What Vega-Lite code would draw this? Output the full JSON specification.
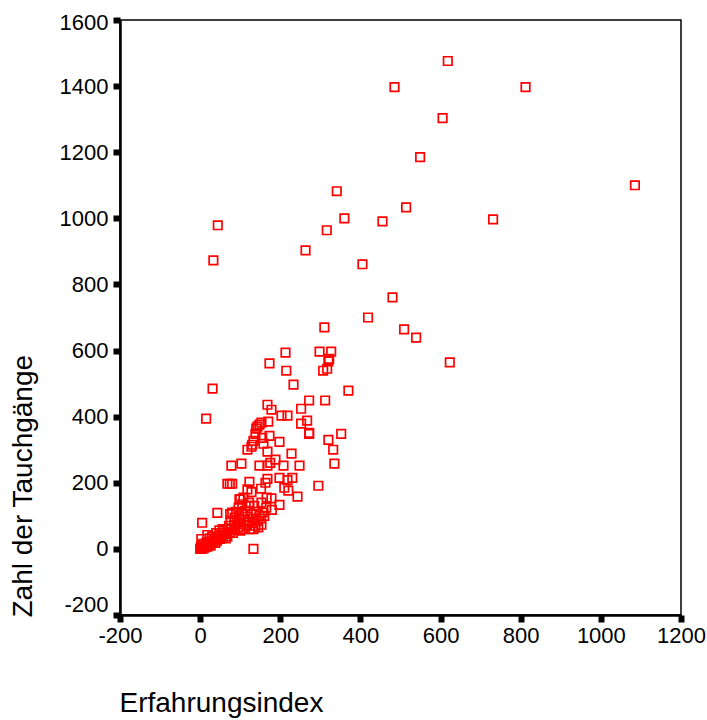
{"$schema":"https://vega.github.io/schema/vega-lite/v6.json","width":561,"height":595,"autosize":"none","padding":{"left":120,"top":20,"right":26,"bottom":105},"background":"white","view":{"stroke":"black","strokeWidth":1.5,"fill":"white"},"data":{"values":[
{"x":618,"y":1476},{"x":485,"y":1397},{"x":812,"y":1397},{"x":605,"y":1303},{"x":549,"y":1185},{"x":1085,"y":1100},{"x":341,"y":1082},{"x":44,"y":979},{"x":360,"y":1000},{"x":455,"y":991},{"x":514,"y":1033},{"x":731,"y":997},{"x":316,"y":964},{"x":263,"y":903},{"x":33,"y":873},{"x":405,"y":861},{"x":480,"y":761},{"x":419,"y":700},{"x":310,"y":670},{"x":509,"y":664},{"x":539,"y":639},{"x":623,"y":564},{"x":173,"y":561},{"x":213,"y":594},{"x":298,"y":597},{"x":327,"y":597},{"x":320,"y":567},{"x":322,"y":575},{"x":317,"y":545},{"x":307,"y":539},{"x":215,"y":539},{"x":233,"y":497},{"x":370,"y":479},{"x":31,"y":485},{"x":15,"y":394},
{"x":168,"y":436},{"x":178,"y":421},{"x":272,"y":449},{"x":312,"y":449},{"x":252,"y":424},{"x":203,"y":403},{"x":218,"y":403},{"x":267,"y":388},{"x":252,"y":379},{"x":272,"y":351},{"x":272,"y":348},{"x":352,"y":348},{"x":320,"y":330},{"x":332,"y":300},{"x":335,"y":258},{"x":295,"y":191},{"x":170,"y":385},{"x":153,"y":382},{"x":143,"y":370},{"x":148,"y":376},{"x":140,"y":364},{"x":138,"y":348},{"x":173,"y":342},{"x":155,"y":336},{"x":133,"y":327},{"x":130,"y":315},{"x":118,"y":300},{"x":128,"y":309},{"x":198,"y":324},{"x":158,"y":318},{"x":168,"y":294},{"x":228,"y":288},{"x":188,"y":270},{"x":103,"y":258},{"x":78,"y":252},{"x":148,"y":252},{"x":168,"y":252},{"x":175,"y":260},{"x":208,"y":252},{"x":248,"y":252},{"x":198,"y":215},{"x":230,"y":215},{"x":218,"y":208},{"x":168,"y":212},{"x":163,"y":200},{"x":123,"y":203},{"x":210,"y":185},{"x":220,"y":176},{"x":243,"y":158},{"x":68,"y":197},{"x":74,"y":197},{"x":80,"y":197},{"x":118,"y":180},{"x":128,"y":172},{"x":152,"y":182},{"x":166,"y":155},{"x":178,"y":153},{"x":153,"y":140},{"x":123,"y":130},{"x":179,"y":118},{"x":198,"y":133},{"x":43,"y":109},{"x":5,"y":79},{"x":133,"y":60},{"x":133,"y":0},{"x":153,"y":73},
{"x":0,"y":0},{"x":3,"y":2},{"x":5,"y":1},{"x":7,"y":4},{"x":2,"y":6},{"x":9,"y":2},{"x":10,"y":8},{"x":4,"y":11},{"x":13,"y":5},{"x":15,"y":10},{"x":8,"y":15},{"x":18,"y":7},{"x":20,"y":13},{"x":3,"y":30},{"x":16,"y":20},{"x":23,"y":16},{"x":26,"y":10},{"x":28,"y":22},{"x":18,"y":42},{"x":24,"y":32},{"x":32,"y":20},{"x":35,"y":28},{"x":38,"y":18},{"x":30,"y":38},{"x":42,"y":25},{"x":46,"y":35},{"x":40,"y":48},{"x":50,"y":30},{"x":52,"y":42},{"x":48,"y":56},{"x":57,"y":38},{"x":60,"y":50},{"x":56,"y":60},{"x":64,"y":32},{"x":66,"y":45},{"x":70,"y":58},{"x":68,"y":38},{"x":74,"y":50},{"x":72,"y":70},{"x":78,"y":62},{"x":76,"y":85},{"x":82,"y":48},{"x":85,"y":72},{"x":88,"y":58},{"x":86,"y":95},{"x":92,"y":80},{"x":95,"y":65},{"x":90,"y":112},{"x":98,"y":92},{"x":100,"y":55},{"x":102,"y":75},{"x":104,"y":105},{"x":96,"y":125},{"x":108,"y":60},{"x":110,"y":88},{"x":112,"y":115},{"x":100,"y":150},{"x":105,"y":135},{"x":116,"y":70},{"x":118,"y":98},{"x":120,"y":82},{"x":125,"y":60},{"x":128,"y":105},{"x":130,"y":78},{"x":134,"y":92},{"x":138,"y":70},{"x":140,"y":112},{"x":144,"y":85},{"x":148,"y":100},{"x":152,"y":92},{"x":156,"y":110},{"x":160,"y":100},{"x":165,"y":125},{"x":145,"y":65},{"x":80,"y":110},{"x":75,"y":105},{"x":98,"y":150},{"x":108,"y":155},{"x":122,"y":140},{"x":135,"y":130}
]},"mark":{"type":"point","shape":"square","filled":false,"stroke":"#ff0000","strokeWidth":1.7,"size":72,"opacity":1},"encoding":{"x":{"field":"x","type":"quantitative","scale":{"domain":[-200,1200],"nice":false,"zero":false},"axis":{"values":[-200,0,200,400,600,800,1000,1200],"labelExpr":"''+datum.value","grid":false,"title":"Erfahrungsindex","titleFont":"Liberation Sans","titleFontSize":28,"titleFontWeight":"normal","titleColor":"#000000","titleAlign":"left","titleAnchor":"start","titleX":-1,"titleY":88,"titleBaseline":"middle","labelFont":"Liberation Sans","labelFontSize":22,"labelColor":"#000000","labelPadding":3,"labelOverlap":false,"labelFlush":false,"domainColor":"#000000","domainWidth":2.5,"tickColor":"#000000","tickSize":7,"tickWidth":6}},"y":{"field":"y","type":"quantitative","scale":{"domain":[-200,1600],"nice":false,"zero":false},"axis":{"values":[-200,0,200,400,600,800,1000,1200,1400,1600],"labelExpr":"''+datum.value","grid":false,"title":"Zahl der Tauchgänge","titleFont":"Liberation Sans","titleFontSize":28,"titleFontWeight":"normal","titleColor":"#000000","titleAlign":"left","titleAngle":270,"titleAnchor":"start","titleX":-97,"titleY":597,"titleBaseline":"middle","labelFont":"Liberation Sans","labelFontSize":22,"labelColor":"#000000","labelPadding":5,"labelOverlap":false,"labelFlush":false,"domainColor":"#000000","domainWidth":2.5,"tickColor":"#000000","tickSize":7,"tickWidth":6,"encoding":{"labels":{"dy":{"condition":[{"test":"datum.value==-200","value":-11},{"test":"datum.value==1600","value":2}],"value":0}}}}}}}
